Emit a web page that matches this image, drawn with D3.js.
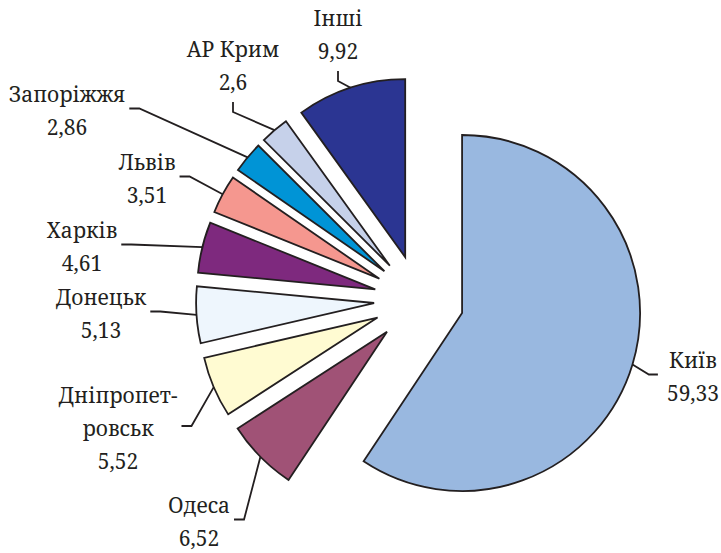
<!DOCTYPE html>
<html>
<head>
<meta charset="utf-8">
<script src="https://cdn.jsdelivr.net/npm/d3@7"></script>
<style>
  body { margin: 0; background: #fff; }
</style>
</head>
<body>
<script>
// Data
var regions = ["Київ", "Одеса", "Дніпропетровськ", "Донецьк", "Харків", "Львів", "Запоріжжя", "АР Крим", "Інші"];
var shares = [59.33, 6.52, 5.52, 5.13, 4.61, 3.51, 2.86, 2.6, 9.92];
var colors = ["#99b8e0", "#a05276", "#fffbd2", "#eef6fd", "#7e297e", "#f5978f", "#0094d6", "#c6d1ea", "#2b3592"];
// long names broken the way the picture does
var wrap = {"Дніпропетровськ": ["Дніпропет-", "ровськ"]};

// Layout
var w = 721, h = 553;
var cx = 419, cy = 300, radius = 178, explode = 45;
var lineGap = 33;
// label block: centre x, first baseline, which side the leader meets it
var labelLayout = [
  {x: 693, y: 368, side: "l"},
  {x: 199, y: 513, side: "r"},
  {x: 118, y: 403, side: "r"},
  {x: 101, y: 305, side: "r"},
  {x: 82,  y: 238, side: "r"},
  {x: 147, y: 170, side: "r"},
  {x: 67,  y: 102, side: "r"},
  {x: 233, y: 57,  side: "b"},
  {x: 338, y: 26,  side: "b"}
];

var locale = d3.formatLocale({decimal: ",", thousands: " ", grouping: [3], currency: ["", ""]});
var fmt = locale.format("~f");

var svg = d3.select("body")
            .append("svg")
            .attr("width", w)
            .attr("height", h);

var g = svg.append("g")
           .attr("transform", "translate(" + cx + "," + cy + ")");

var pie = d3.pie().sort(null).value(function(d) { return d; });
var arcs = pie(shares);

var arc = d3.arc().innerRadius(0).outerRadius(radius);

function dir(a) { return [Math.sin(a), -Math.cos(a)]; }
function mid(d) { return (d.startAngle + d.endAngle) / 2; }

/***Slices***/
g.selectAll("path.slice")
  .data(arcs)
  .enter().append("path")
    .attr("class", "slice")
    .attr("transform", function(d) {
      var v = dir(mid(d));
      return "translate(" + (v[0] * explode) + "," + (v[1] * explode) + ")";
    })
    .attr("d", arc)
    .attr("fill", function(d, i) { return colors[i]; })
    .attr("stroke", "#231f20")
    .attr("stroke-width", 1.8)
    .attr("stroke-linejoin", "miter");

/***Labels***/
var labels = svg.append("g")
                .attr("font-family", "'Noto Serif', 'Liberation Serif', serif")
                .attr("font-size", 21)
                .attr("fill", "#231f20");
arcs.forEach(function(d, i) {
  var L = labelLayout[i];
  var lines = (wrap[regions[i]] || [regions[i]]).concat([fmt(shares[i])]);
  var t = labels.append("text").attr("text-anchor", "middle");
  lines.forEach(function(s, k) {
    t.append("tspan").attr("x", L.x).attr("y", L.y + k * lineGap).text(s);
  });
  var maxW = 0;
  t.selectAll("tspan").each(function() { maxW = Math.max(maxW, this.getComputedTextLength()); });
  var last = L.y + (lines.length - 1) * lineGap;

  var anchor, elbow;
  if (L.side === "r") {
    anchor = [L.x + maxW / 2 + 4, (L.y + last) / 2 - 10];
    elbow = [anchor[0] + 10, anchor[1]];
  } else if (L.side === "l") {
    anchor = [L.x - maxW / 2 - 9, (L.y + last) / 2 - 10];
    elbow = [anchor[0] - 9, anchor[1]];
  } else {
    anchor = [L.x, last + 12];
    elbow = [L.x, last + 22];
  }
  // leader meets the outer arc at the slice's middle angle
  var v = dir(mid(d));
  var tip = [cx + v[0] * (explode + radius), cy + v[1] * (explode + radius)];

  svg.append("path")
     .attr("d", d3.line()([anchor, elbow, tip]))
     .attr("fill", "none")
     .attr("stroke", "#231f20")
     .attr("stroke-width", 1.8);
});
</script>
</body>
</html>
